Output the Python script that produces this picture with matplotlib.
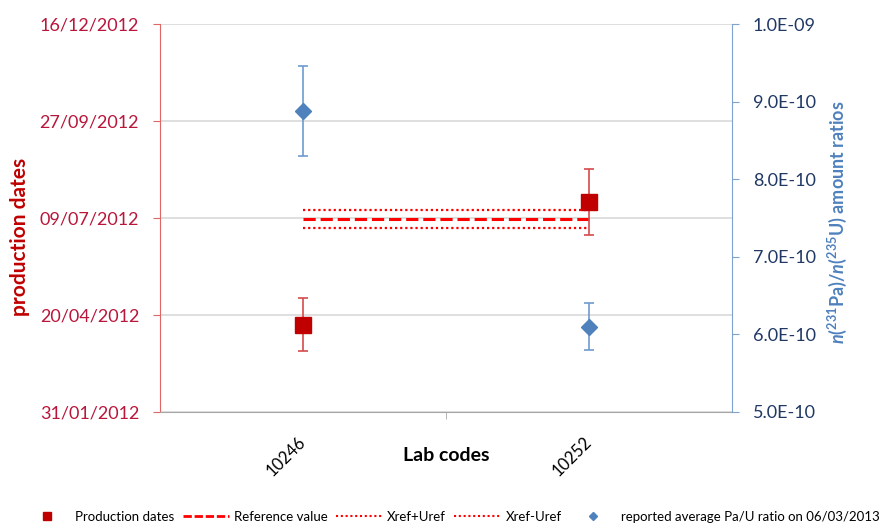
import numpy as np
import matplotlib
matplotlib.use('Agg')
import matplotlib.pyplot as plt
import matplotlib.dates as mdates
from matplotlib.lines import Line2D
from matplotlib.ticker import FuncFormatter

plt.rcParams['font.family'] = ['Lato', 'DejaVu Sans']
plt.rcParams['mathtext.fontset'] = 'custom'
plt.rcParams['mathtext.it'] = 'Lato:italic:bold'
plt.rcParams['mathtext.rm'] = 'Lato:bold'

# datos
lab_codes = ['10246', '10252']
prod_dates = ['2012-04-12', '2012-07-22']
prod_err_days = [22, 27]
ref_value = '2012-07-08'
ref_unc_days = 7.5
ratios = [8.88e-10, 6.10e-10]
ratio_err = [0.58e-10, 0.30e-10]
date_ticks = ['2012-01-31', '2012-04-20', '2012-07-09', '2012-09-27', '2012-12-16']
ratio_ticks = [5e-10, 6e-10, 7e-10, 8e-10, 9e-10, 1e-9]

red_dark = '#C00000'
red_lab = '#B8163A'
blue = '#4F81BD'
navy = '#1F3864'

x = np.arange(1, len(lab_codes) + 1)
yd = mdates.datestr2num(prod_dates)
ref = mdates.datestr2num(ref_value)
dticks = mdates.datestr2num(date_ticks)

fig = plt.figure(figsize=(8.86, 5.26), dpi=100)
ax = fig.add_axes([160/886, 1 - 412/526, (732 - 160)/886, (412 - 24)/526])

ax.errorbar(x, yd, yerr=prod_err_days, fmt='s', color=red_dark, ms=11,
            ecolor='#D64B4B', elinewidth=1.2, capsize=3.5, capthick=1.2, zorder=3)
ax.plot(x, [ref, ref], color='red', ls=(0, (4, 1.6)), lw=2.2, zorder=2)
ax.plot(x, [ref + ref_unc_days] * 2, color='red', ls=(0, (1, 1.3)), lw=1.6, zorder=2)
ax.plot(x, [ref - ref_unc_days] * 2, color='red', ls=(0, (1, 1.3)), lw=1.6, zorder=2)

ax.set_xlim(0.5, len(lab_codes) + 0.5)
ax.set_ylim(dticks[0], dticks[-1])
ax.set_yticks(dticks)
ax.yaxis.set_major_formatter(mdates.DateFormatter('%d/%m/%Y'))
ax.grid(axis='y', color='#D9D9D9', lw=1.2)
ax.set_axisbelow(True)

ax.set_xticks(x)
ax.set_xticklabels(lab_codes, rotation=45, ha='right', va='center',
                   rotation_mode='anchor', fontsize=12)
ax.set_xticks([1.5], minor=True)
ax.tick_params(axis='x', which='major', length=0, pad=20)
ax.tick_params(axis='x', which='minor', length=5, color='#A6A6A6', direction='out')
ax.tick_params(axis='y', length=5, color='#E06666', labelcolor=red_lab,
               labelsize=13, pad=10)

for s in ['top', 'right']:
    ax.spines[s].set_visible(False)
ax.spines['left'].set_color('#E06666')
ax.spines['bottom'].set_color('#A6A6A6')

ax.set_ylabel('production dates', color=red_dark, fontsize=15, fontweight='bold')
ax.yaxis.set_label_coords(-0.228, 0.45)
ax.set_xlabel('Lab codes', fontsize=14, fontweight='bold')
ax.xaxis.set_label_coords(0.5, -0.09)

ax2 = ax.twinx()
ax2.errorbar(x, ratios, yerr=ratio_err, fmt='D', color=blue, ms=8.5,
             ecolor='#6F9BCF', elinewidth=1.2, capsize=3.5, capthick=1.2, zorder=3)
ax2.set_ylim(ratio_ticks[0], ratio_ticks[-1])
ax2.set_yticks(ratio_ticks)
ax2.yaxis.set_major_formatter(FuncFormatter(lambda v, p: f'{v:.1E}'))
ax2.tick_params(axis='y', length=5, color='#7FA3D0', labelcolor=navy,
                labelsize=13, pad=10)
for s in ['top', 'left', 'bottom']:
    ax2.spines[s].set_visible(False)
ax2.spines['right'].set_color('#7FA3D0')
ax2.set_ylabel(r'$n$($^{231}$Pa)/$n$($^{235}$U) amount ratios', color=blue,
               fontsize=13, fontweight='bold')
ax2.yaxis.set_label_coords(1.164, 0.49)

handles = [
    Line2D([], [], marker='s', color=red_dark, ls='none', ms=6),
    Line2D([], [], color='red', ls=(0, (3, 1)), lw=2),
    Line2D([], [], color='red', ls=(0, (1, 1.3)), lw=1.5),
    Line2D([], [], color='red', ls=(0, (1, 1.3)), lw=1.5),
    Line2D([], [], marker='D', color=blue, ls='none', ms=4),
]
labels = ['Production dates', 'Reference value', 'Xref+Uref', 'Xref-Uref',
          'reported average Pa/U ratio on 06/03/2013']
fig.legend(handles, labels, loc='center', bbox_to_anchor=(0.51, 0.017), ncol=5,
           frameon=False, fontsize=9.5, handlelength=3.5, columnspacing=0.6,
           handletextpad=0.4, borderpad=0, borderaxespad=0)

fig.savefig('out.png', dpi=100)
